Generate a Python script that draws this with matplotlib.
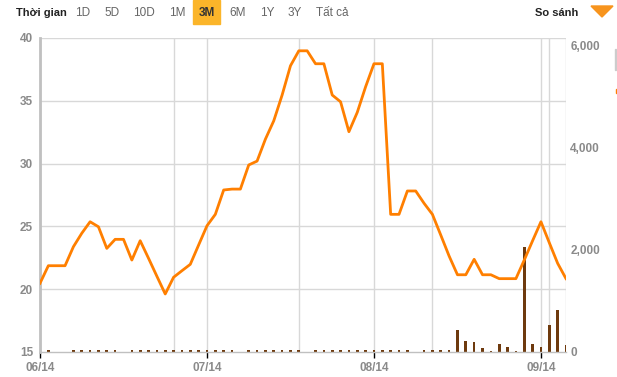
import matplotlib
matplotlib.use("Agg")
import matplotlib.pyplot as plt
from matplotlib.patches import Rectangle, Polygon

plt.rcParams['font.family'] = ['Liberation Sans', 'DejaVu Sans']

# closing price, one point per trading day
price = [20.47, 21.87, 21.87, 21.87, 23.38, 24.45, 25.37, 24.97, 23.25, 23.97,
         23.97, 22.32, 23.86, 22.46, 21.03, 19.62, 20.95, 21.47, 21.98, 23.52,
         25.05, 25.96, 27.90, 27.97, 27.97, 29.89, 30.20, 31.95, 33.41, 35.46,
         37.79, 38.98, 38.98, 37.95, 37.95, 35.46, 34.92, 32.54, 34.08, 36.12,
         37.95, 37.95, 25.96, 25.96, 27.82, 27.82, 26.84, 25.96, 24.31, 22.64,
         21.15, 21.15, 22.38, 21.15, 21.15, 20.84, 20.84, 20.84, 22.32, 23.86,
         25.37, 23.70, 22.06, 20.84]

# volume (right axis)
volume = [0, 30, 0, 0, 30, 30, 30, 30, 30, 30,
          0, 30, 30, 30, 30, 30, 30, 30, 30, 30,
          30, 30, 30, 30, 0, 30, 30, 30, 30, 30,
          30, 30, 0, 30, 30, 30, 30, 30, 30, 30,
          30, 30, 30, 30, 30, 0, 30, 30, 30, 30,
          431, 216, 196, 78, 25, 163, 98, 25, 2058, 163,
          98, 529, 823, 137]

month_pos = [0, 20, 40, 60]
month_labels = ['06/14', '07/14', '08/14', '09/14']
extra_grid = [16, 31, 47, 61, 63]

price_ticks = [15, 20, 25, 30, 35, 40]
vol_ticks = [0, 2000, 4000, 6000]

menu = ['1D', '5D', '10D', '1M', '3M', '6M', '1Y', '3Y', 'Tất cả']
menu_x = [75, 104, 133, 169, 199, 229, 260, 288, 316]

W, H = 617, 377
fig = plt.figure(figsize=(W / 100, H / 100), dpi=100)
ax = fig.add_axes([40 / W, 1 - 352 / H, 526 / W, 314 / H])
ax2 = ax.twinx()

x = list(range(len(price)))
grid_c = '#d8d8d8'
lab_c = '#8a8a8a'
vol_top = 2000 * 314 / 102

# grid drawn on the volume axes so bars sit on top of it
for v in price_ticks[1:]:
    ax2.axhline((v - 15) / 25 * vol_top, color=grid_c, lw=1, zorder=0)
for p in month_pos + extra_grid:
    ax2.axvline(p, color=grid_c, lw=1, zorder=0)

ax2.bar(x, volume, width=0.32, color='#6e3a0e', zorder=2)
ax2.set_ylim(0, vol_top)
ax2.set_yticks(vol_ticks)
ax2.set_yticklabels(['{:,}'.format(v) for v in vol_ticks])

ax.plot(x, price, color='#ff7f00', lw=2.0, zorder=5)
ax.set_ylim(15, 40)
ax.set_xlim(0, 63)
ax.set_zorder(ax2.get_zorder() + 1)
ax.patch.set_visible(False)

ax.set_yticks(price_ticks)
ax.set_xticks(month_pos)
ax.set_xticklabels(month_labels)

for s in ['top', 'right']:
    ax.spines[s].set_visible(False)
for s in ax2.spines.values():
    s.set_visible(False)
ax.spines['left'].set_color('#c0c0c0')
ax.spines['left'].set_linewidth(2)
ax.spines['bottom'].set_color('#c0c0c0')
ax.spines['bottom'].set_linewidth(1)

ax.tick_params(axis='y', length=0, pad=5, labelsize=8.5, labelcolor=lab_c)
ax.tick_params(axis='x', length=4, width=1, color='black', direction='out',
               pad=3, labelsize=8.5, labelcolor=lab_c)
ax2.tick_params(axis='y', length=0, pad=3, labelsize=8.5, labelcolor=lab_c)
for t in ax.get_xticklabels() + ax.get_yticklabels() + ax2.get_yticklabels():
    t.set_fontweight('bold')

# toolbar on top
fig.text(16 / W, 1 - 12.5 / H, 'Thời gian', fontsize=8, fontweight='bold',
         color='#222222', va='center', ha='left')
for lab, px in zip(menu, menu_x):
    if lab == '3M':
        fig.patches.append(Rectangle((193 / W, 1 - 24 / H), 27 / W, 24 / H,
                                     transform=fig.transFigure, color='#fbb52a'))
        fig.text(px / W, 1 - 12.5 / H, lab, fontsize=8.5, fontweight='bold',
                 color='#333333', va='center', ha='left')
    else:
        fig.text(px / W, 1 - 12.5 / H, lab, fontsize=8.5, color='#666666',
                 va='center', ha='left')
fig.text(535 / W, 1 - 12.5 / H, 'So sánh', fontsize=8, fontweight='bold',
         color='#222222', va='center', ha='left')
fig.patches.append(Polygon([(591 / W, 1 - 6 / H), (613 / W, 1 - 6 / H),
                            (602 / W, 1 - 17 / H)], closed=True,
                           transform=fig.transFigure, color='#f7941d'))

# cut-off bits of a side panel at the right edge
fig.patches.append(Rectangle((615 / W, 1 - 70 / H), 1 / W, 21 / H,
                             transform=fig.transFigure, color='#cccccc'))
fig.patches.append(Rectangle((615.5 / W, 1 - 93 / H), 1.5 / W, 4 / H,
                             transform=fig.transFigure, color='#ff7f00'))

fig.savefig('out.png', dpi=100)
